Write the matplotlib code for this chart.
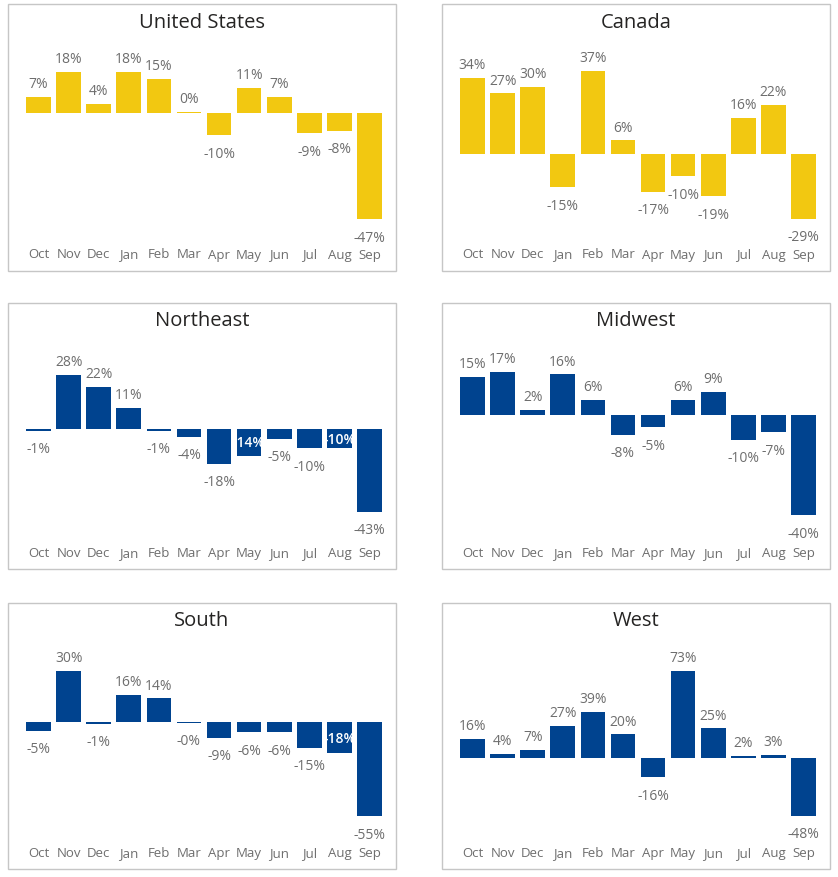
import matplotlib
matplotlib.use("Agg")
import matplotlib.pyplot as plt
from matplotlib.patches import Rectangle
from matplotlib.transforms import blended_transform_factory, offset_copy

plt.rcParams['font.family'] = ['Open Sans', 'DejaVu Sans']

months = ["Oct", "Nov", "Dec", "Jan", "Feb", "Mar", "Apr", "May", "Jun", "Jul", "Aug", "Sep"]

united_states = [7, 18, 4, 18, 15, 0.4, -10, 11, 7, -9, -8, -47]
canada = [34, 27, 30, -15, 37, 6, -17, -10, -19, 16, 22, -29]
northeast = [-1, 28, 22, 11, -1, -4, -18, -14, -5, -10, -10, -43]
midwest = [15, 17, 2, 16, 6, -8, -5, 6, 9, -10, -7, -40]
south = [-5, 30, -1, 16, 14, -0.4, -9, -6, -6, -15, -18, -55]
west = [16, 4, 7, 27, 39, 20, -16, 73, 25, 2, 3, -48]

titles = ["United States", "Canada", "Northeast", "Midwest", "South", "West"]
series = [united_states, canada, northeast, midwest, south, west]

YELLOW = "#F2C811"
BLUE = "#00438F"
colors = [YELLOW, YELLOW, BLUE, BLUE, BLUE, BLUE]

# layout (pixel units of an 838x878 canvas)
W, H = 838, 878
panel_left = [8, 442]
panel_top = [5, 303.5, 603.5]
panel_w, panel_h = 388, 266.5
ylims = [(-47.0, 19.4), (-29.2, 37.9), (-46.0, 31.9), (-40.8, 18.7), (-55.7, 32.0), (-49.4, 75.8)]
inside_labels = {"Northeast": ["May", "Aug"], "South": ["Aug"]}

fig = plt.figure(figsize=(W / 100, H / 100), dpi=100)
fig.patch.set_facecolor("white")

LABEL_GRAY = "#6E6E6E"

for i, (title, vals, col) in enumerate(zip(titles, series, colors)):
    r, c = divmod(i, 2)
    px, py = panel_left[c], panel_top[r]
    # panel border
    fig.patches.append(Rectangle((px / W, 1 - (py + panel_h) / H), panel_w / W, panel_h / H,
                                 transform=fig.transFigure, fill=False,
                                 edgecolor="#C6C6C6", linewidth=1.0))
    fig.text((px + panel_w / 2) / W, 1 - (py + 18) / H, title, ha="center", va="center",
             fontsize=14.5, color="#252423")
    ax_left = px + 15.5
    ax_w = 361
    ax_top = py + 65
    ax_bot = py + 215
    ax = fig.add_axes([ax_left / W, 1 - ax_bot / H, ax_w / W, (ax_bot - ax_top) / H])
    x = list(range(len(months)))
    ax.bar(x, vals, width=0.82, color=col)
    ax.set_xlim(-0.5, len(months) - 0.5)
    ax.set_ylim(*ylims[i])
    ax.axis("off")
    # category labels
    tr = blended_transform_factory(ax.transData, fig.transFigure)
    for xi, m in zip(x, months):
        ax.text(xi, 1 - (py + 250) / H, m, transform=tr, ha="center", va="center",
                fontsize=9.5, color=LABEL_GRAY)
    # data labels
    ins = inside_labels.get(title, [])
    for xi, m, v in zip(x, months, vals):
        txt = f"{v:.0f}%"
        if m in ins:
            ax.text(xi, v / 2, txt, ha="center", va="center", fontsize=10,
                    color="white", fontweight="semibold")
        elif v >= 0:
            t = offset_copy(ax.transData, fig=fig, x=0, y=9.5, units="points")
            ax.text(xi, v, txt, transform=t, ha="center", va="center", fontsize=10,
                    color=LABEL_GRAY)
        else:
            t = offset_copy(ax.transData, fig=fig, x=0, y=-13, units="points")
            ax.text(xi, v, txt, transform=t, ha="center", va="center", fontsize=10,
                    color=LABEL_GRAY)

fig.savefig("out.png", dpi=100, facecolor="white")
